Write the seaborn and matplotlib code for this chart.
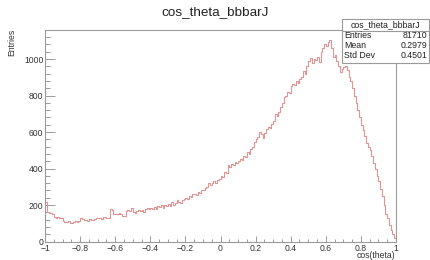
import numpy as np
import pandas as pd
import matplotlib
matplotlib.use("Agg")
import matplotlib.pyplot as plt
from matplotlib.patches import Rectangle
from matplotlib.lines import Line2D
from matplotlib.ticker import FixedLocator, MultipleLocator
import seaborn as sns

# ---- data (200 bins on [-1, 1]) ----
title = "cos_theta_bbbarJ"
x_label = "cos(theta)"
y_label = "Entries"
x_min, x_max = -1.0, 1.0
n_bins = 200
counts = [
    215, 160, 158, 155, 150, 135, 130, 132, 128, 130,
    112, 108, 105, 110, 104, 102, 108, 112, 106, 115,
    130, 125, 118, 120, 115, 122, 120, 118, 125, 128,
    130, 128, 126, 132, 135, 128, 130, 180, 175, 148,
    152, 148, 155, 150, 140, 142, 165, 170, 168, 182,
    160, 158, 165, 172, 168, 175, 160, 178, 182, 176,
    185, 180, 190, 178, 195, 188, 200, 185, 198, 192,
    205, 195, 215, 200, 210, 225, 218, 212, 228, 235,
    240, 232, 250, 245, 258, 262, 255, 270, 268, 280,
    285, 292, 300, 318, 310, 322, 330, 318, 338, 345,
    360, 352, 380, 375, 420, 410, 425, 418, 435, 428,
    440, 452, 445, 470, 462, 490, 478, 505, 520, 545,
    560, 575, 600, 590, 570, 595, 615, 630, 620, 645,
    660, 700, 690, 712, 735, 760, 790, 800, 820, 815,
    850, 865, 858, 880, 870, 890, 900, 935, 920, 960,
    990, 1005, 980, 1000, 995, 1010, 985, 1040, 1060, 1085,
    1070, 1095, 1105, 1060, 1010, 1020, 990, 960, 930, 945,
    955, 960, 940, 900, 880, 840, 800, 760, 720, 680,
    640, 610, 580, 540, 520, 500, 470, 430, 400, 360,
    330, 290, 250, 200, 150, 130, 90, 65, 40, 20,
]
x_ticks = [-1.0, -0.8, -0.6, -0.4, -0.2, 0.0, 0.2, 0.4, 0.6, 0.8, 1.0]
x_tick_labels = ["\u22121", "\u22120.8", "\u22120.6", "\u22120.4", "\u22120.2",
                 "0", "0.2", "0.4", "0.6", "0.8", "1"]
y_ticks = [0, 200, 400, 600, 800, 1000]
y_tick_labels = ["0", "200", "400", "600", "800", "1000"]
y_max = 1162
stats_names = ["Entries", "Mean", "Std Dev"]
stats_values = ["81710", "0.2979", "0.4501"]

# ---- figure ----
sns.set_style("white")
plt.rcParams["font.family"] = ["Liberation Sans", "DejaVu Sans"]

W, H = 430, 260
fig = plt.figure(figsize=(W / 100, H / 100), dpi=100)
L, R, T, B = 45, 396, 29.5, 241.5
ax = fig.add_axes([L / W, 1 - B / H, (R - L) / W, (B - T) / H])

bin_w = (x_max - x_min) / n_bins
centers = x_min + bin_w * (np.arange(n_bins) + 0.5)
df = pd.DataFrame({"x": centers, "w": np.asarray(counts, dtype=float)})
sns.histplot(data=df, x="x", weights="w", bins=n_bins,
             binrange=(x_min, x_max), element="step",
             fill=False, color="#e39494", linewidth=0.8, ax=ax)

ax.set_xlim(x_min, x_max)
ax.set_ylim(0, y_max)
ax.set_xlabel("")
ax.set_ylabel("")

frame_col = "#9a9a9a"
for s in ax.spines.values():
    s.set_color(frame_col)
    s.set_linewidth(0.8)

ax.xaxis.set_major_locator(FixedLocator(x_ticks))
ax.set_xticklabels(x_tick_labels)
ax.xaxis.set_minor_locator(MultipleLocator(0.05))
ax.yaxis.set_major_locator(FixedLocator(y_ticks))
ax.set_yticklabels(y_tick_labels)
ax.yaxis.set_minor_locator(MultipleLocator(40))

ax.tick_params(axis="both", which="both", direction="in", color=frame_col,
               labelcolor="#333333", labelsize=6.2, width=0.7)
ax.tick_params(axis="x", which="major", length=4.3, pad=1.5)
ax.tick_params(axis="x", which="minor", length=2.2)
ax.tick_params(axis="y", which="major", length=7.2, pad=1.0)
ax.tick_params(axis="y", which="minor", length=3.6)
ax.tick_params(axis="both", which="both", bottom=True, left=True,
               top=False, right=False)

# title & axis labels
fig.text(215 / W, 1 - 12 / H, title, ha="center", va="center",
         fontsize=9.7, color="#222222")
fig.text(12 / W, 1 - 29 / H, y_label, rotation=90, ha="center", va="top",
         fontsize=6.2, color="#333333")
fig.text(395 / W, 1 - 256 / H, x_label, ha="right", va="center",
         fontsize=6.2, color="#333333")

# stats box
bx0, bx1, by0, by1, hy = 342, 429, 19, 63, 30.5
fig.add_artist(Rectangle((bx0 / W, 1 - by1 / H), (bx1 - bx0) / W,
                         (by1 - by0) / H, transform=fig.transFigure,
                         facecolor="white", edgecolor=frame_col, lw=0.8,
                         zorder=10))
fig.add_artist(Line2D([bx0 / W, bx1 / W], [1 - hy / H, 1 - hy / H],
                      transform=fig.transFigure, color=frame_col, lw=0.8,
                      zorder=11))
fig.text((bx0 + bx1) / 2 / W, 1 - 25 / H, title, ha="center", va="center",
         fontsize=6.3, color="#222222", zorder=12)
row_y = [36, 46, 56]
for name, val, yy in zip(stats_names, stats_values, row_y):
    fig.text(344 / W, 1 - yy / H, name, ha="left", va="center",
             fontsize=6.3, color="#222222", zorder=12)
    fig.text(427.5 / W, 1 - yy / H, val, ha="right", va="center",
             fontsize=6.3, color="#222222", zorder=12)

fig.savefig("out.png", dpi=100)
